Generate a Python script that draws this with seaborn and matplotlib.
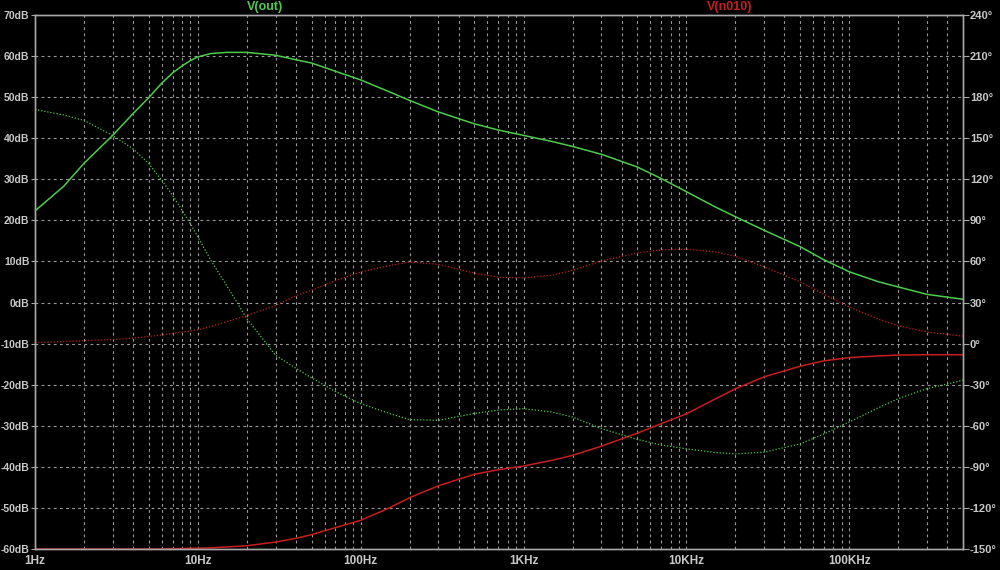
import numpy as np
import pandas as pd
import matplotlib
matplotlib.use("Agg")
import matplotlib.pyplot as plt
import seaborn as sns
from matplotlib.ticker import FixedLocator, FuncFormatter, NullFormatter

# ---- data ----
freq = [1, 1.5, 2, 3, 4, 5, 6, 7, 8, 9, 10, 12, 15, 20, 30, 40, 50, 70,
        100, 150, 200, 300, 500, 700, 1000, 1500, 2000, 3000, 5000, 7000,
        10000, 15000, 20000, 30000, 50000, 70000, 100000, 150000, 200000,
        300000, 500000]

vout_db = [22.3, 28.3, 33.9, 40.7, 46.0, 49.9, 53.4, 55.9, 57.6, 58.9, 59.8,
           60.6, 60.9, 60.9, 60.2, 59.1, 58.3, 56.3, 54.2, 51.3, 49.2, 46.4,
           43.5, 42.0, 40.7, 39.2, 38.0, 36.1, 33.0, 30.2, 27.0, 23.3, 20.9,
           17.6, 13.6, 10.4, 7.5, 5.1, 3.8, 2.0, 0.8]
vout_ph = [171, 167, 163, 152, 142.3, 131.4, 119.3, 108.3, 97.4, 87.6, 78,
           61, 42.6, 18.2, -8.5, -18, -25, -35, -43.8, -51, -55.5, -56, -51,
           -48.5, -47.5, -50, -53.6, -62, -70, -74, -76.8, -79.5, -80.5,
           -79.3, -73.2, -66, -57.3, -47, -40.2, -32.9, -26.8]

n010_db = [-60, -60, -60, -60, -60, -60, -60, -59.9, -59.9, -59.8, -59.8,
           -59.7, -59.5, -59.2, -58.3, -57.4, -56.5, -54.8, -53, -50, -47.5,
           -44.6, -41.8, -40.7, -39.8, -38.4, -37.2, -35.0, -31.8, -29.5,
           -27.1, -23.5, -21, -18.1, -15.5, -14.2, -13.4, -13, -12.8, -12.7,
           -12.7]
n010_ph = [0.7, 1.5, 2.2, 3, 4, 5.2, 6.3, 7.5, 8.5, 9.3, 10, 12.5, 16, 20.5,
           27.8, 35, 39, 46, 52.3, 57, 59.6, 57.9, 51.4, 48.5, 48, 50, 53.5,
           60.3, 66.2, 68.5, 69, 67, 63.9, 56.1, 45.1, 36, 26.8, 18, 13, 8.5,
           5.4]

db_ticks = list(range(-60, 71, 10))
deg_ticks = list(range(-150, 241, 30))
x_major = [1, 10, 100, 1000, 10000, 100000]
x_labels = ["1Hz", "10Hz", "100Hz", "1KHz", "10KHz", "100KHz"]

df = pd.DataFrame({"f": freq, "vout_db": vout_db, "vout_ph": vout_ph,
                   "n010_db": n010_db, "n010_ph": n010_ph})

GREEN = "#4ccc4c"
RED = "#c81e1e"
TXT = "#c8c8c8"
FRAME = "#a8a8a8"
GRID = "#9a9a9a"

sns.set_style("dark")
plt.rcParams["font.family"] = ["Liberation Sans", "DejaVu Sans"]

fig = plt.figure(figsize=(10, 5.7), dpi=100, facecolor="black")
ax = fig.add_axes([0.035, 0.0368, 0.928, 0.9369])
ax.set_facecolor("black")
ax2 = ax.twinx()

sns.lineplot(data=df, x="f", y="vout_db", ax=ax, color=GREEN, lw=1.1)
sns.lineplot(data=df, x="f", y="n010_db", ax=ax, color=RED, lw=1.1)
sns.lineplot(data=df, x="f", y="vout_ph", ax=ax2, color=GREEN, lw=0.9,
             linestyle=(0, (1, 1.5)))
sns.lineplot(data=df, x="f", y="n010_ph", ax=ax2, color=RED, lw=0.9,
             linestyle=(0, (1, 1.5)))

ax.set_xscale("log")
ax.set_xlim(1, 500000)
ax.set_ylim(-60, 70)
ax2.set_ylim(-150, 240)

minor = [m * 10 ** e for e in range(0, 6) for m in range(1, 10) if m * 10 ** e <= 500000]
ax.xaxis.set_major_locator(FixedLocator(x_major))
ax.xaxis.set_minor_locator(FixedLocator(minor))
ax.xaxis.set_major_formatter(FuncFormatter(lambda v, p: x_labels[x_major.index(v)] if v in x_major else ""))
ax.xaxis.set_minor_formatter(NullFormatter())
ax.set_yticks(db_ticks)
ax.set_yticklabels([f"{t}dB" for t in db_ticks])
ax2.set_yticks(deg_ticks)
ax2.set_yticklabels([f"{t}\u00b0" for t in deg_ticks])

ax.grid(False)
ax2.grid(False)
for v in minor:
    if 1 < v < 500000:
        ax.axvline(v, color=GRID, lw=0.8, ls=(0, (2.5, 3)), zorder=0.5)
for t in db_ticks[1:-1]:
    ax.axhline(t, color=GRID, lw=0.8, ls=(0, (2.5, 3)), zorder=0.5)

for a in (ax, ax2):
    for s in a.spines.values():
        s.set_color(FRAME)
        s.set_linewidth(1.0)
        s.set_visible(True)
ax.tick_params(axis="x", which="both", colors=FRAME, labelcolor=TXT,
               direction="inout", length=5, labelsize=8.5, pad=2)
ax.tick_params(axis="x", which="minor", length=3)
ax.tick_params(axis="y", colors=FRAME, labelcolor=TXT, direction="out",
               length=3, labelsize=7.5, pad=1)
ax2.tick_params(axis="y", colors=FRAME, labelcolor=TXT, direction="out",
                length=4, labelsize=8, pad=1)
for lab in ax.get_xticklabels() + ax.get_yticklabels() + ax2.get_yticklabels():
    lab.set_fontweight("bold")

ax.set_xlabel("")
ax.set_ylabel("")
ax2.set_ylabel("")

fig.text(0.265, 0.988, "V(out)", color=GREEN, fontsize=9, fontweight="bold",
         ha="center", va="center")
fig.text(0.730, 0.988, "V(n010)", color=RED, fontsize=9, fontweight="bold",
         ha="center", va="center")

fig.savefig("out.png", dpi=100, facecolor="black")
